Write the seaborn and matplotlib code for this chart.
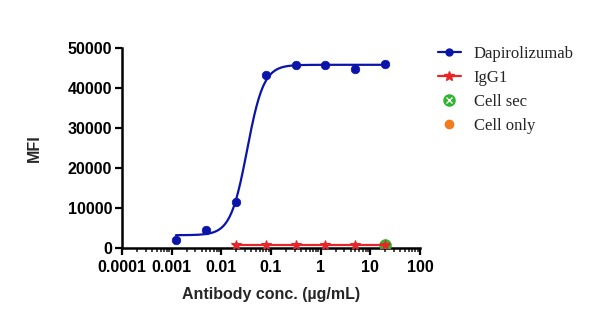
import numpy as np
import pandas as pd
import matplotlib
matplotlib.use("Agg")
import matplotlib.pyplot as plt
from matplotlib.lines import Line2D
from matplotlib.legend_handler import HandlerTuple
import seaborn as sns

# ---- data ----
dapi_conc = [0.00122, 0.00488, 0.0195, 0.078, 0.3125, 1.25, 5.0, 20.0]
dapi_mfi = [2000, 4500, 11600, 43200, 45800, 45800, 44800, 45900]

igg_conc = [0.0195, 0.078, 0.3125, 1.25, 5.0, 20.0]
igg_mfi = [700, 700, 700, 700, 700, 700]

cellsec_conc = [20.0]
cellsec_mfi = [850]

cellonly_conc = [20.0]
cellonly_mfi = [600]

# 4PL fit parameters
fit_bottom = 3200
fit_top = 45800
fit_ec50 = 0.033
fit_hill = 2.6

xticks = [0.0001, 0.001, 0.01, 0.1, 1, 10, 100]
xticklabels = ["0.0001", "0.001", "0.01", "0.1", "1", "10", "100"]
yticks = [0, 10000, 20000, 30000, 40000, 50000]

blue = "#0a14a8"
red = "#e8262a"
green = "#2db52d"
orange = "#f27b20"

sns.set_style("ticks")
plt.rcParams["font.family"] = ["Liberation Sans", "DejaVu Sans"]

fig = plt.figure(figsize=(6.03, 3.23), dpi=100)
ax = fig.add_axes([122 / 603, 1 - 248 / 323, (420 - 122) / 603, 200 / 323])

xfit = np.logspace(np.log10(dapi_conc[0]), np.log10(dapi_conc[-1]), 300)
yfit = fit_bottom + (fit_top - fit_bottom) / (1 + (fit_ec50 / xfit) ** fit_hill)
fit_df = pd.DataFrame({"x": xfit, "y": yfit})

sns.lineplot(data=fit_df, x="x", y="y", color=blue, lw=1.6, ax=ax)
sns.scatterplot(x=dapi_conc, y=dapi_mfi, color=blue, marker="o", s=38,
                edgecolor=blue, linewidth=0.5, ax=ax, zorder=5)

sns.scatterplot(x=cellonly_conc, y=cellonly_mfi, color=orange, marker="o", s=40,
                edgecolor=orange, ax=ax, zorder=3)
sns.scatterplot(x=cellsec_conc, y=cellsec_mfi, color=green, marker="o", s=70,
                edgecolor=green, ax=ax, zorder=4)

sns.lineplot(x=igg_conc, y=igg_mfi, color=red, lw=1.6, marker="*",
             markersize=7, markeredgecolor=red, ax=ax, zorder=6)

ax.set_xscale("log")
ax.set_xlim(0.0001, 100)
ax.set_ylim(0, 50000)
ax.set_xticks(xticks)
ax.set_xticklabels(xticklabels)
ax.set_yticks(yticks)
ax.xaxis.set_minor_locator(matplotlib.ticker.LogLocator(base=10, subs=np.arange(2, 10)))
ax.xaxis.set_minor_formatter(matplotlib.ticker.NullFormatter())

for sp in ["top", "right"]:
    ax.spines[sp].set_visible(False)
for sp in ["left", "bottom"]:
    ax.spines[sp].set_linewidth(1.8)
    ax.spines[sp].set_color("black")

ax.tick_params(axis="both", which="major", length=5, width=1.6, direction="out",
               labelsize=11.5, colors="black", pad=2)
ax.tick_params(axis="x", which="minor", length=3, width=1.2)
ax.tick_params(axis="x", which="major", pad=4)
for lab in ax.get_xticklabels() + ax.get_yticklabels():
    lab.set_fontweight("bold")

ax.set_xlabel("Antibody conc. (µg/mL)", fontsize=11.5, fontweight="bold", labelpad=8)
ax.set_ylabel("MFI", fontsize=11.5, fontweight="bold", labelpad=19)

h1 = Line2D([], [], color=blue, lw=1.6, marker="o", markersize=5)
h2 = Line2D([], [], color=red, lw=1.6, marker="*", markersize=7)
h3a = Line2D([], [], color=green, lw=0, marker="o", markersize=8)
h3b = Line2D([], [], color="white", lw=0, marker="x", markersize=4, markeredgewidth=1)
h4 = Line2D([], [], color=orange, lw=0, marker="o", markersize=6)

fig.legend([h1, h2, (h3a, h3b), h4],
           ["Dapirolizumab", "IgG1", "Cell sec", "Cell only"],
           handler_map={tuple: HandlerTuple(ndivide=1, pad=0)},
           loc="upper left", bbox_to_anchor=(438 / 603, 1 - 46 / 323),
           borderaxespad=0, borderpad=0,
           frameon=False, prop={"family": "Liberation Serif", "size": 12},
           handlelength=1.35, labelspacing=0.48, handletextpad=0.8)

fig.savefig("out.png", dpi=100)
